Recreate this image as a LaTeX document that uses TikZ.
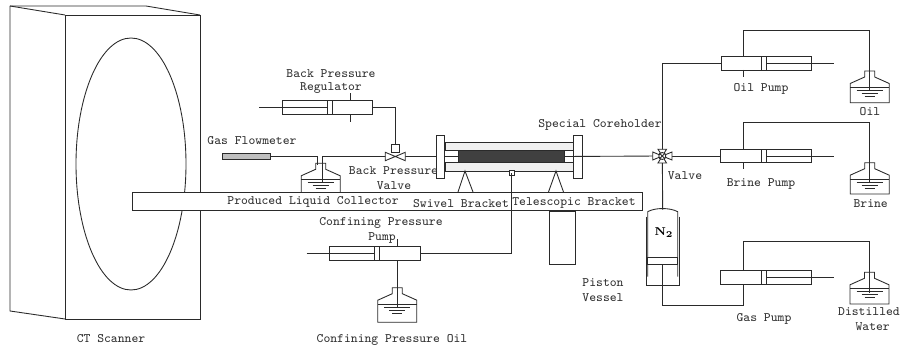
\documentclass[tikz,border=0pt]{standalone}
\definecolor{ink}{HTML}{2A2A2A}
\definecolor{txt}{HTML}{333333}
\tikzset{
  px/.style={x=0.02cm,y=-0.02cm},
  ln/.style={draw=ink,line width=0.5pt},
  lab/.style={inner sep=0pt,text=txt,font=\ttfamily\fontsize{7.34}{8}\selectfont},
  box/.style={draw=ink,line width=0.5pt,fill=white,inner sep=0pt,outer sep=0pt},
  body/.style={box,minimum height=13.5*0.02cm},
}
% name, x-left, x-right, y-centre, piston-left, piston-right
\newcommand\PumpBody[6]{%
  \node[body,minimum width={(#3-#2)*0.02cm}] (#1) at ({(#2+#3)/2},#4) {};
  \draw[ln,fill=white] (#5,#4) ++(0,-6.75) rectangle (#6,#4+6.75);
}
% name, centre x, neck-top y, bottom y
\newcommand\Bottle[4]{%
  \draw[ln] (#2-5,#3+6) -- (#2-5,#3) -- (#2+5,#3) -- (#2+5,#3+6) -- (#2+19.5,#3+12.5) -- (#2+19.5,#4)
     -- (#2-19.5,#4) -- (#2-19.5,#3+12.5) -- cycle;
  \draw[ln] (#2-19.5,#3+16.5) -- (#2+19.5,#3+16.5);
  \draw[ln] (#2-13,#3+19.5) -- (#2+13,#3+19.5);
  \draw[ln] (#2-8,#3+22.5) -- (#2+8,#3+22.5);
  \draw[ln] (#2-5,#3+25.5) -- (#2+5,#3+25.5);
  \coordinate (#1) at (#2,#3+20.5);
}
\begin{document}
\begin{tikzpicture}[px]
\useasboundingbox (0,0) rectangle (900,350);
% CT scanner
\draw[ln] (10,6) -- (146,6) -- (200,15);
\draw[ln] (10,6) -- (65,15);
\draw[ln] (10,6) -- (10,311) -- (65,319);
\draw[ln] (65,15) rectangle (200,319);
\draw[ln] (131,164) ellipse [x radius=55,y radius=126];
\node[lab] (ct) at (111,339) {CT Scanner};
% junction coordinates
\coordinate (vc) at (662.3,156);
\coordinate (bv) at (395,156.5);
\coordinate (oilj) at (743.3,30);
\coordinate (brinej) at (743.3,122.7);
\coordinate (gasj) at (743.3,241.7);
\coordinate (gasl) at (743.3,305.3);
\coordinate (regj) at (350,100.3);
\coordinate (confj) at (397.3,239);
% collector bottle (its foot is hidden by the bar)
\Bottle{collb}{320.7}{163.3}{196}
% flowmeter
\node[box,fill=black!25,minimum width=47.5*0.02cm,minimum height=5.6*0.02cm] (flow) at (246.4,156.5) {};
\coordinate (collin) at (317.3,165);
\coordinate (collout) at (322.3,181.7);
\draw[ln] (flow.east) -| (collin);
\draw[ln] (bv) -| (collout);
% bar
\node[box,minimum width=510.6*0.02cm,minimum height=18.4*0.02cm] (bar) at (387.3,201.5) {};
% telescopic post
\node[box,minimum width=25.7*0.02cm,minimum height=53*0.02cm] (post) at (562.2,237.5) {};
% coreholder line and core
\draw[ln,fill=black!6] (445,142) rectangle (574,150.7);
\draw[ln,fill=black!6] (445,162.3) rectangle (574,171.3);
\node[box,fill=black!75,minimum width=106*0.02cm,minimum height=11.3*0.02cm] (core) at (511.7,156.5) {};
\node[box,minimum width=8.6*0.02cm,minimum height=43*0.02cm] (flL) at (440.3,156.5) {};
\node[box,minimum width=8.3*0.02cm,minimum height=43*0.02cm] (flR) at (577.8,156.5) {};
\draw[ln] (bv) -- (flL.west);
\draw[ln] (flL.east) -- (core.west);
\draw[ln] (core.east) -- (vc);
% brackets
\draw[ln] (458,192) -- (465,171) -- (473,192);
\draw[ln] (548.5,192) -- (556,171) -- (563.5,192);
% back pressure regulator
\PumpBody{reg}{282}{372.7}{107.5}{327.3}{332}
\coordinate (regl) at (259.3,107.5);
\draw[ln] (regl) -- (327.3,107.5);
\draw[ln] (350,93.3) -- (regj);
\draw[ln] (350,114.7) -- (350,122);
% back pressure valve
\node[box,minimum size=8*0.02cm] (bpsq) at (395,148.2) {};
\draw[ln] (reg.east) -| (bpsq.north);
\draw[ln,fill=white] (385.3,152.3) -- (405.3,160.7) -- (405.3,152.3) -- (385.3,160.7) -- cycle;
% confining pump
\PumpBody{conf}{329.3}{420}{253.5}{374.7}{379.7}
\coordinate (confl) at (306.7,253.5);
\draw[ln] (confl) -- (374.7,253.5);
\draw[ln] (confj) -- (397.3,246.7);
\Bottle{confb}{397.3}{287.7}{322.3}
\draw[ln] (397.3,260.3) -- (confb);
\node[box,minimum size=5*0.02cm] (port) at (511.5,172.7) {};
\draw[ln] (conf.east) -| (port.center);
% oil pump
\PumpBody{oilp}{721}{811.7}{63.3}{761.3}{766.7}
\coordinate (oilr) at (834,63.3);
\draw[ln] (766.7,63.3) -- (oilr);
\Bottle{oilb}{869.7}{71}{102.7}
\draw[ln] (oilp.north -| oilj) -- (oilj) -| (oilb);
\draw[ln] (743.3,70) -- (743.3,76.7);
\draw[ln] (oilp.west) -| (vc);
% brine pump
\PumpBody{brp}{720.7}{811.7}{156}{761.3}{766.7}
\coordinate (brr) at (834,156);
\draw[ln] (766.7,156) -- (brr);
\Bottle{brb}{869.7}{162.7}{194}
\draw[ln] (brp.north -| brinej) -- (brinej) -| (brb);
\draw[ln] (743.3,162.7) -- (743.3,169.3);
\draw[ln] (vc) -- (brp.west);
% piston vessel
\coordinate (pvp) at (662.7,264.3);
\draw[ln] (vc) -- (662.7,210);
\draw[ln] (647.7,276.7) -- (647.7,211.7) .. controls (655,207.5) and (670,207.5) .. (677.7,211.7) -- (677.7,276.7);
\draw[draw=ink,line width=0.8pt] (646.3,216.7) -- (646.3,285.7);
\draw[draw=ink,line width=0.8pt] (679.3,216.7) -- (679.3,285.7);
\draw[ln] (646.3,285.7) -- (679.3,285.7);
\draw[ln,fill=white] (647.7,257.7) rectangle (677.7,264.3);
% gas pump
\PumpBody{gasp}{720.7}{811.3}{277.5}{761.3}{766.3}
\coordinate (gasr) at (834,277.5);
\draw[ln] (766.3,277.5) -- (gasr);
\Bottle{gasb}{869.5}{272.3}{304}
\draw[ln] (gasp.north -| gasj) -- (gasj) -| (gasb);
\draw[ln] (gasp.south -| gasl) -- (gasl) -| (pvp);
% four-way valve
\draw[ln,fill=white] (652.7,152) -- (652.7,160) -- (vc) -- cycle;
\draw[ln,fill=white] (672,152) -- (672,160) -- (vc) -- cycle;
\draw[ln,fill=white] (658,149.3) -- (666.5,149.3) -- (vc) -- cycle;
\draw[ln,fill=white] (658,163) -- (666.5,163) -- (vc) -- cycle;
\node[draw=ink,line width=0.5pt,fill=white,circle,inner sep=0pt,minimum size=7*0.02cm] (valve) at (vc) {};
\draw[ln] (valve.north west) -- (valve.south east);
\draw[ln] (valve.north east) -- (valve.south west);
% labels
\node[lab] (l1) at (331,74) {Back Pressure};
\node[lab] (l2) at (331,88) {Regulator};
\node[lab] (l3) at (252,141) {Gas Flowmeter};
\node[lab] (l4) at (393.5,170.7) {Back Pressure};
\node[lab] (l5) at (394,186) {Valve};
\node[lab] (l6) at (313,202) {Produced Liquid Collector};
\node[lab] (l7) at (461,204) {Swivel Bracket};
\node[lab] (l8) at (574,202.7) {Telescopic Bracket};
\node[lab] (l9) at (600,125) {Special Coreholder};
\node[lab] (l10) at (685,176) {Valve};
\node[lab] (l11) at (761,89) {Oil Pump};
\node[lab] (l12) at (870,111.7) {Oil};
\node[lab] (l13) at (761,184) {Brine Pump};
\node[lab] (l14) at (870.7,204) {Brine};
\node[lab] (l15) at (764,319) {Gas Pump};
\node[lab] (l16) at (869,312) {Distilled};
\node[lab] (l17) at (872.7,326.7) {Water};
\node[lab] (l18) at (603,283) {Piston};
\node[lab] (l19) at (603,298) {Vessel};
\node[lab] (l20) at (381,223) {Confining Pressure};
\node[lab] (l21) at (382,237.7) {Pump};
\node[lab] (l22) at (392,340) {Confining Pressure Oil};
\node[inner sep=0pt,font=\fontsize{6.5}{8}\selectfont] (n2) at (664,233) {\textbf{N}$_{\mathbf 2}$};
\end{tikzpicture}
\end{document}
